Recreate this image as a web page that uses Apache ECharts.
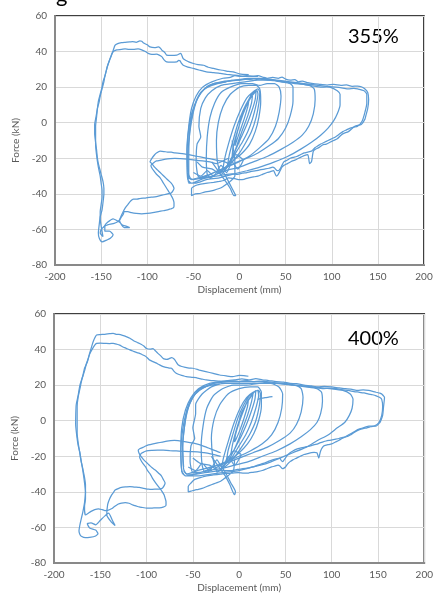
<!DOCTYPE html>
<html><head><meta charset="utf-8">
<script src="https://cdn.jsdelivr.net/npm/echarts@6/dist/echarts.min.js"></script>
<style>html,body{margin:0;padding:0;background:#fff}#c{width:436px;height:597px}</style>
</head><body><div id="c"></div>
<script>
// Axis ticks
const xTicks = [-200, -150, -100, -50, 0, 50, 100, 150, 200];
const yTicks = [-80, -60, -40, -20, 0, 20, 40, 60];
const labels = ['355%', '400%'];

// ===== 355% : [displacement (mm), force (kN)] =====
const center355 = [[0,0],[3,4],[7,9],[10,12],[9,9],[5,2],[1,-4],[-3,-10],[-5,-13],[-4,-9],[0,-1],[4,5],[8,10],[12,14],[14,15],[13,11],[9,4],[4,-3],[-1,-10],[-5,-16],[-8,-19],[-7,-14],[-3,-6],[2,2],[6,8],[11,14],[15,17],[18,18],[17,13],[13,6],[8,-1],[2,-8],[-4,-15],[-9,-20],[-13,-24],[-11,-18],[-7,-10],[-2,-1],[4,7],[10,13],[15,16],[19,18],[20,16],[18,10],[14,2],[9,-5],[3,-11],[-3,-16],[-9,-21],[-15,-25],[-18,-26],[-16,-20],[-12,-12],[-6,-2],[1,7],[8,14],[14,17],[20,19],[22,17],[21,11],[18,3],[13,-5],[7,-11],[0,-17],[-8,-22],[-16,-26],[-21,-28]];
const mid355 = [[-21,-28],[-24,-22],[-25,-10],[-23,0],[-18,9],[-10,16],[0,20],[10,21],[18,21],[22,19],[23,12],[21,3],[17,-5],[11,-12],[3,-17],[-6,-21],[-15,-25],[-25,-29],[-32,-31],[-35,-29],[-36,-20],[-35,-8],[-32,3],[-27,11],[-20,17],[-10,20],[2,22],[14,22],[22,21],[30,22],[38,22],[43,20],[45,15],[43,6],[39,-2],[32,-9],[22,-14],[10,-19],[-2,-22],[-15,-25],[-28,-28],[-40,-31],[-45,-30],[-47,-22],[-46,-12],[-42,-8],[-44,-2],[-42,8],[-37,14],[-30,18],[-20,21],[-8,22],[6,23],[20,24],[34,24],[46,23],[55,22],[58,20],[58,12],[55,4],[50,-3],[42,-9],[32,-13],[20,-17],[8,-20],[-5,-23],[-18,-26],[-32,-29],[-45,-31],[-52,-32],[-55,-29],[-55,-18],[-54,-5],[-51,5],[-47,12],[-40,18],[-30,21],[-15,23],[0,24],[18,25],[35,24],[50,23],[65,22],[76,21],[81,19],[82,13],[80,5],[75,-2],[68,-7],[58,-11],[45,-15],[30,-19],[15,-22],[0,-25],[-15,-27],[-30,-30],[-42,-32],[-52,-34],[-56,-32],[-57,-22],[-56,-8],[-53,3],[-48,11],[-42,17],[-33,21],[-20,23],[-5,24],[10,25],[25,25],[40,24],[55,23],[70,22],[85,21],[98,20],[106,18],[109,16],[109,10],[106,5],[102,1],[96,-3],[88,-7],[78,-11],[66,-15],[52,-19],[38,-22],[22,-25],[8,-27],[-8,-29],[-22,-31],[-36,-32],[-48,-34],[-55,-34],[-56,-28]];
const outer355a = [[-56,-28],[-57,-15],[-55,-2],[-52,8],[-47,15],[-40,20],[-30,23],[-18,25],[-10,25.5],[-5,26.5],[2,26],[8,26.5],[14,26],[20,26.5],[26,25.5],[30,25],[36,25.5],[42,25],[46,25.6],[50,24.5],[55,24],[60,24.2],[64,23],[68,23.4],[74,22.5],[80,22],[88,21.6],[95,21.2],[102,21.5],[110,21],[116,21.3],[122,20.5],[128,20.6],[132,20.2],[136,19],[139,17],[140,13],[139,8],[137,4],[136,2],[132,-1],[125,-2],[118,-5],[113,-6],[110,-7],[106,-9],[102,-10],[98,-11],[94,-12],[90,-12.5],[86,-14],[82,-15],[80,-16],[79,-19],[78,-22],[76,-23],[75,-20],[74,-18],[70,-18.5],[68,-19],[64,-20],[60,-21],[56,-21.8],[52,-23],[48,-24],[46,-25],[44,-27],[42,-29],[40,-30],[38,-28],[37,-27],[33,-27.6],[30,-28],[25,-29],[20,-30],[15,-30.5],[10,-31],[5,-31.8],[0,-32],[-5,-31.5],[-12,-31],[-17,-32.5],[-22,-33],[-28,-33.5],[-35,-34],[-42,-34.5],[-46,-35],[-50,-36],[-52,-37],[-52,-41],[-50,-40.5],[-48,-40],[-43,-39.8],[-38,-39],[-33,-38.6],[-28,-38],[-22,-37],[-18,-36],[-14,-34.5],[-10,-33],[-5,-30],[-5,-22],[-8,-10]];
const outer355b = [[-55,-32],[-56,-20],[-54,-6],[-50,6],[-45,14],[-38,19],[-28,22],[-20,22.6],[-15,23],[-8,23.8],[0,24],[8,24.5],[15,24],[22,24.6],[30,24],[38,23.6],[45,23],[52,22.7],[60,22],[68,21.7],[75,21],[83,20.4],[90,20],[98,20.3],[105,20],[112,19.5],[118,19],[124,19.3],[128,19],[135,18],[138,16],[138,11],[136,6],[133,1],[128,-2],[124,-2.5],[120,-3],[116,-4],[112,-5],[108,-6.5],[104,-8],[100,-9],[96,-10],[92,-11],[88,-12],[85,-13],[82,-14],[80,-15],[78,-16],[74,-16.5],[70,-17],[66,-18],[62,-19],[58,-19.5],[55,-20],[52,-21],[48,-22],[46,-24],[44,-26],[42,-27],[41,-27],[38,-25.5],[36,-25],[32,-25.6],[28,-26],[22,-26.5],[18,-27],[12,-27.5],[8,-28],[3,-28.4],[-2,-29],[-8,-28.8],[-14,-29],[-20,-29.6],[-26,-30],[-32,-30.5],[-38,-31],[-44,-31.5],[-50,-32],[-55,-31]];
const excursion355a = [[10,27],[0,27.5],[-7,28.6],[-12,28.8],[-18,29.5],[-23,29.8],[-28,30.5],[-34,31.2],[-39,32.3],[-45,32.6],[-50,33.3],[-55,34.2],[-58,35],[-61,36],[-63,38.5],[-64,39],[-66,38.5],[-68,38],[-74,37.8],[-79,38],[-81,39.5],[-84,40.7],[-86,42],[-88,42.6],[-92,42.2],[-97,42.6],[-100,43.8],[-104,44.8],[-106,45.8],[-108,46],[-112,45.2],[-116,45.6],[-119,45.4],[-124,45.2],[-128,45],[-132,44.5],[-135,43.5],[-137,40.5],[-139,38],[-141,35],[-143,32],[-145,28],[-146,26],[-147,23],[-149,19],[-151,15],[-152,12],[-154,8],[-155,5],[-156,2],[-157,-1],[-157,-6],[-156,-11],[-155,-15],[-154,-20],[-153,-23],[-151,-27],[-150,-29],[-148,-33],[-147,-37],[-147,-40],[-148,-45],[-149,-49],[-151,-53],[-152,-57],[-153,-62],[-152,-65],[-149,-67],[-144,-66],[-140,-65],[-137,-63],[-141,-61],[-146,-61],[-146,-58],[-143,-56],[-137,-54],[-133,-55],[-130,-56],[-127,-57.5],[-124,-58],[-119,-59],[-125,-59],[-130,-55],[-127,-51],[-124,-48],[-121,-46],[-118,-44],[-115,-43],[-111,-43],[-107,-42.5],[-102,-42.4],[-98,-42],[-94,-41.8],[-90,-41.5],[-86,-41],[-82,-40.5],[-78,-40],[-74,-39.5],[-71,-37],[-72,-35.5],[-74,-34],[-77,-32.5],[-80,-31],[-83,-29.5],[-86,-28],[-89,-26.5],[-92,-25],[-95,-23],[-97,-22],[-95,-20],[-92,-18],[-90,-17],[-86,-16],[-82,-16.2],[-78,-16.5],[-74,-16.6],[-70,-17],[-65,-17.2],[-60,-17.5],[-55,-18],[-50,-18.5],[-45,-19],[-40,-19.5],[-35,-20],[-30,-20.5],[-25,-21],[-20,-21.5],[-16,-22],[-12,-23]];
const excursion355b = [[-12,-20],[-18,-21.5],[-25,-23],[-32,-22],[-40,-21.5],[-48,-21],[-57,-20.5],[-64,-20.2],[-70,-20],[-75,-20.2],[-80,-20.5],[-85,-21],[-90,-21.5],[-93,-22.5],[-96,-24],[-95,-25.5],[-93,-27],[-90,-29],[-86,-31],[-83,-33.5],[-80,-36],[-77,-38.5],[-74,-41],[-72,-43],[-71,-45],[-71,-47],[-72,-48],[-75,-48.5],[-78,-49],[-83,-49.5],[-88,-50],[-94,-50.6],[-100,-51],[-106,-51.2],[-112,-51],[-117,-50.6],[-121,-50],[-125,-50],[-126,-51.5],[-128,-53],[-130,-54.6],[-133,-56],[-136,-56.6],[-140,-57],[-143,-57.4],[-146,-58],[-148,-59],[-150,-60],[-151,-62],[-148,-64],[-150,-58],[-151,-54],[-151,-50],[-150,-46],[-149,-42],[-149,-38],[-150,-34],[-151,-30],[-153,-25],[-155,-18],[-156,-12],[-156,-7],[-156,-2],[-155,3],[-154,8],[-153,12],[-151,16],[-149,20],[-148,23],[-146,26],[-145,28],[-143,32],[-141,35],[-139,37.5],[-138,39],[-136,40.3],[-133,41],[-128,41.2],[-124,41.5],[-120,41.3],[-115,41.3],[-110,41.5],[-106,41],[-102,40],[-99,39],[-95,38.4],[-90,38.5],[-87,38],[-84,37],[-82,35.5],[-79,34.2],[-74,34],[-68,34.2],[-66,35],[-64.5,34.8],[-63,33.5],[-61,32.3],[-56,31.3],[-50,30.5],[-43,29.5],[-36,28.6],[-28,28.2],[-21,27.7],[-14,27.2],[-7,26.8],[0,26.4],[5,26],[12,26.2],[20,26]];
const extra355 = [[-30,-22],[-22,-28],[-15,-33],[-10,-37],[-6,-41],[-4,-41],[-9,-36],[-15,-30],[-20,-26]];
const knot355 = [[-50,-28],[-42,-30],[-35,-27],[-28,-30],[-20,-24],[-14,-28],[-8,-22],[-2,-26],[4,-21],[-4,-18],[-12,-24],[-20,-29],[-30,-26],[-40,-25],[-46,-22]];

// ===== 400% : [displacement (mm), force (kN)] =====
const center400 = [[0,0],[3,5],[7,9],[10,12],[9,8],[5,1],[1,-5],[-3,-10],[-5,-12],[-4,-8],[0,-1],[5,6],[9,11],[13,14],[15,15],[13,10],[9,3],[4,-4],[-1,-11],[-6,-17],[-9,-19],[-7,-13],[-3,-5],[2,3],[7,9],[12,13],[16,16],[18,17],[17,12],[13,5],[8,-2],[2,-9],[-4,-15],[-10,-21],[-14,-24],[-12,-17],[-7,-8],[-1,2],[5,9],[11,14],[16,16],[20,17],[21,14],[18,7],[13,-1],[7,-8],[0,-14],[-7,-20],[-14,-24],[-19,-27],[-17,-21],[-12,-12],[-6,-2],[1,7],[8,13],[15,16],[21,17],[23,15],[22,9],[18,0],[12,-7],[5,-13],[-3,-19],[-11,-24],[-18,-27],[-24,-29]];
const mid400 = [[-24,-29],[-28,-22],[-30,-10],[-27,1],[-21,9],[-12,15],[0,18],[12,19],[20,19],[24,16],[24,8],[21,0],[16,-7],[9,-13],[0,-18],[-10,-22],[-20,-25],[-30,-28],[-37,-29],[-40,-25],[-41,-14],[-39,-3],[-35,7],[-28,14],[-18,18],[-6,20],[8,20],[22,21],[34,21],[43,19],[47,15],[46,7],[42,-1],[35,-8],[25,-13],[12,-17],[0,-20],[-14,-23],[-28,-26],[-42,-29],[-50,-29],[-53,-23],[-52,-14],[-48,-10],[-50,-4],[-47,4],[-47,9],[-40,15],[-30,19],[-16,21],[0,21],[16,21],[32,21],[48,21],[60,20],[67,18],[69,13],[67,5],[62,-2],[55,-7],[44,-11],[30,-15],[15,-18],[0,-21],[-15,-24],[-30,-26],[-45,-28],[-57,-30],[-60,-27],[-61,-15],[-59,-3],[-56,6],[-50,13],[-42,18],[-30,20],[-15,21],[0,21],[20,21],[40,21],[58,20],[72,19],[84,18],[89,16],[90,11],[88,4],[84,-1],[77,-5],[67,-9],[55,-13],[40,-17],[25,-20],[10,-23],[-5,-25],[-20,-27],[-35,-28],[-48,-30],[-58,-31],[-62,-28],[-63,-16],[-62,-4],[-58,6],[-52,13],[-44,18],[-32,21],[-18,22],[0,22],[20,22],[40,21],[60,20],[80,19],[98,18],[112,17],[120,15],[123,12],[122,7],[119,3],[114,-1],[106,-4],[96,-8],[85,-11],[72,-15],[58,-18],[44,-21],[30,-24],[15,-26],[0,-28],[-15,-29],[-30,-30],[-45,-31],[-58,-31],[-62,-29]];
const outer400a = [[-62,-29],[-63,-18],[-61,-5],[-57,5],[-52,12],[-44,17],[-33,20],[-20,22],[-12,22.6],[-5,23],[3,23.5],[10,23],[18,23.6],[25,23],[32,22.6],[40,22],[48,21.7],[55,21],[62,20.8],[70,20],[78,19.6],[85,19],[92,19.3],[100,19],[108,18.4],[115,18],[122,17.6],[128,17],[134,17.3],[140,17],[145,16.4],[148,16],[152,15.5],[154,15],[157,13],[156,8],[155,3],[153,0],[152,-1],[148,-3],[144,-3],[140,-3],[137,-3.5],[134,-4],[131,-4.5],[128,-5],[125,-6],[122,-7],[118,-8],[115,-9],[111,-10],[108,-11],[104,-12],[100,-13],[96,-13.5],[92,-14],[90,-15],[88,-17],[87,-19],[86,-21],[85,-19.5],[84,-18],[81,-17.8],[78,-18],[74,-18.5],[70,-19],[66,-20],[62,-21],[58,-22],[55,-23],[52,-24.5],[50,-26],[48,-26.8],[47,-27],[44,-25.5],[42,-25],[38,-25.6],[35,-26],[30,-27],[25,-28],[20,-28.6],[15,-29],[10,-29.4],[5,-29.5],[-1,-29.2],[-8,-29.5],[-14,-29.6],[-20,-30],[-28,-30.5],[-35,-31],[-42,-32],[-48,-33],[-52,-35],[-55,-37],[-55,-40],[-52,-39.6],[-48,-39],[-44,-38.6],[-40,-38],[-35,-37],[-30,-36],[-25,-35],[-20,-34],[-16,-32.5],[-12,-31],[-9,-29.5],[-6,-28],[-5,-22]];
const outer400b = [[-60,-26],[-61,-15],[-59,-3],[-55,7],[-49,14],[-40,18],[-28,21],[-20,21.5],[-14,22],[-6,22.4],[0,22],[8,22.4],[15,22],[22,22.3],[30,22],[38,21.4],[45,21],[52,20.6],[60,20],[68,19.6],[75,19],[82,18.7],[90,18],[98,18.3],[105,18],[112,17.4],[118,17],[124,16.4],[130,16],[135,15.6],[140,15],[144,14.6],[148,14],[152,13],[154,12],[155,8],[154,3],[151,-1],[146,-3],[142,-3.4],[138,-4],[134,-4.4],[130,-5],[126,-6],[123,-7],[120,-8],[116,-9],[112,-9.4],[108,-10],[103,-10.5],[98,-11],[94,-11.4],[90,-12],[87,-12.5],[85,-13],[81,-13.5],[78,-14],[74,-14.5],[70,-15],[66,-15.4],[62,-16],[58,-17],[55,-18],[52,-19.5],[50,-21],[48,-22.4],[47,-23],[45,-22],[44,-21],[40,-21.4],[36,-22],[31,-23],[26,-24],[20,-25],[15,-26],[10,-26.5],[4,-27],[-2,-27.4],[-8,-28],[-14,-28],[-20,-28],[-27,-28.5],[-34,-29],[-40,-29.5],[-46,-30],[-51,-30],[-56,-30],[-60,-28]];
const excursion400a = [[10,25],[5,25.4],[0,25.5],[-7,24.8],[-14,25.2],[-21,25.7],[-28,26.6],[-36,27.6],[-43,28.5],[-50,29.5],[-54,29.6],[-58,30],[-62,30.5],[-66,31.5],[-68,33],[-70,34.6],[-73,35.5],[-76,34.8],[-78,34.5],[-80,34.6],[-82,35],[-85,36.6],[-88,38],[-91,39.6],[-93,40.6],[-96,40.2],[-100,40.6],[-103,42],[-106,43],[-110,44],[-114,45],[-118,46.4],[-122,47.3],[-126,48],[-130,48.5],[-133,48.6],[-136,49.1],[-140,48.9],[-145,48.6],[-150,48.4],[-154,48.2],[-156,46.5],[-158,44],[-160,40.5],[-162,37],[-164,33],[-167,29.5],[-169,25],[-172,20],[-174,14],[-176,9],[-176.5,3],[-176.6,-2],[-175.5,-8],[-174,-13.6],[-172,-18],[-170.5,-23],[-168.5,-28],[-167,-32],[-166,-36],[-166,-40],[-167,-46],[-168.7,-51],[-170.5,-55],[-172,-58.5],[-173,-62],[-172,-64],[-170.5,-65],[-166,-65.8],[-161.5,-65.6],[-155,-64.8],[-152.5,-63.5],[-155,-61.5],[-161.5,-60.3],[-164,-58],[-160,-57.5],[-155,-58.5],[-150,-56],[-145,-53.5],[-141,-52],[-137,-56],[-134,-59],[-138,-57],[-143,-53],[-142,-47],[-140,-44],[-138,-42],[-136,-40.5],[-134,-39],[-130,-38],[-127,-37.5],[-122,-37.2],[-118,-37],[-113,-37.3],[-108,-37.5],[-103,-38],[-98,-38.5],[-94,-38.6],[-90,-38.5],[-86,-38.4],[-83,-38],[-81,-36.5],[-80,-35],[-82,-33],[-84,-31],[-87,-29.5],[-90,-28],[-94,-26.5],[-97,-25],[-100,-23.5],[-103,-22],[-106,-20],[-108,-18.5],[-109,-16.5],[-107,-15.6],[-104,-15],[-101,-14.2],[-98,-13.6],[-93,-13],[-88,-12.5],[-83,-12],[-78,-11.5],[-74,-11.2],[-70,-11],[-66,-11.2],[-62,-11.5],[-56,-12],[-50,-12.5],[-45,-13.2],[-40,-14],[-35,-15],[-30,-16],[-25,-17],[-20,-18]];
const excursion400b = [[-20,-20],[-26,-19.2],[-32,-18.5],[-38,-18],[-45,-17.5],[-52,-17.4],[-60,-17.3],[-68,-17],[-75,-16.8],[-82,-16.6],[-88,-16.5],[-94,-16.7],[-100,-17],[-103,-17.6],[-106,-18.5],[-107.5,-20.5],[-106,-22.4],[-104,-24],[-101,-26],[-99,-28],[-96,-30],[-94,-32],[-91,-34.4],[-88,-36.5],[-85,-38.4],[-83,-40],[-81,-41.8],[-80,-43.5],[-79,-45.5],[-79,-47.5],[-81,-48.4],[-84,-48.8],[-88,-49],[-92,-49],[-96,-49.2],[-100,-49.2],[-104,-48.8],[-108,-48.5],[-111,-48],[-115,-47.3],[-119,-46.4],[-123,-46],[-127,-46.3],[-131,-47],[-135,-48.4],[-138,-49.5],[-142,-50.4],[-145,-50.5],[-148,-50],[-152,-49.5],[-156,-50],[-160,-51],[-163,-52],[-166,-53],[-167,-50],[-167,-48],[-166,-44],[-166,-40],[-167,-35],[-168,-31],[-169.5,-26],[-171,-22],[-172.5,-17],[-174,-12],[-175,-7],[-175,-2],[-175,3],[-175,8],[-174,13],[-172,18],[-170,23],[-167,28],[-165,32],[-163,35],[-161,38],[-159,40],[-156,42.5],[-154,43.5],[-150,43.6],[-145,43.5],[-140,43.4],[-136,43.5],[-132,43],[-129,42.5],[-126,41.6],[-122,40.7],[-118,39.8],[-114,39],[-111,38.4],[-107.5,37.9],[-105,37.2],[-102,36.5],[-99,35.3],[-97,34.2],[-93,33.2],[-90,32.5],[-86,31.4],[-82,30.4],[-79,30],[-77,29.8],[-75,29.6],[-73,29.5],[-71,28.2],[-68,26.7],[-65,26],[-62,25.5],[-60,25.2],[-57,24.8],[-51,24.4],[-45,24],[-40,23.4],[-35.6,22.9],[-30,22.6],[-25,22.4],[-20,22.2],[-14,22],[-7,22],[0,22],[5,22.2],[10,22.5]];
const extra400 = [[-30,-20],[-22,-26],[-15,-31],[-10,-36],[-5,-41.6],[-4,-40],[-9,-35],[-15,-29],[-20,-25]];
const knot400 = [[-55,-26],[-47,-28],[-40,-24],[-32,-28],[-24,-22],[-18,-27],[-12,-20],[-5,-25],[2,-19],[-6,-17],[-14,-23],[-22,-28],[-32,-25],[-42,-24],[-50,-21]];
const tail400 = [[20,12],[28,13],[36,13.6]];

const groups = [
  [center355, mid355, outer355a, outer355b, excursion355a, excursion355b, extra355, knot355],
  [center400, mid400, outer400a, outer400b, excursion400a, excursion400b, extra400, knot400, tail400]
];

const FONT = 'Lato, "Open Sans", sans-serif';
const gray = '#595959';
const grids = [
  {left: 55, top: 16, width: 369, height: 249},
  {left: 54, top: 314, width: 371, height: 249}
];

function xAx(i){return {gridIndex:i,type:'value',min:xTicks[0],max:xTicks[xTicks.length-1],interval:50,
  axisLine:{show:true,onZero:false,lineStyle:{color:'#898989',width:2}},axisTick:{show:false},
  axisLabel:{color:gray,fontSize:10,fontFamily:FONT,margin:7},
  splitLine:{show:true,lineStyle:{color:'#D9D9D9',width:1}},
  name:'Displacement (mm)',nameLocation:'middle',nameGap:20,nameTextStyle:{color:gray,fontSize:10,fontFamily:FONT}};}
function yAx(i){return {gridIndex:i,type:'value',min:yTicks[0],max:yTicks[yTicks.length-1],interval:20,
  axisLine:{show:true,onZero:false,lineStyle:{color:'#898989',width:2}},axisTick:{show:false},
  axisLabel:{color:gray,fontSize:10,fontFamily:FONT,margin:8},
  splitLine:{show:true,lineStyle:{color:'#D9D9D9',width:1}},
  name:'Force (kN)',nameLocation:'middle',nameGap:28,nameTextStyle:{color:gray,fontSize:10,fontFamily:FONT}};}

const series = [];
groups.forEach((g,gi)=>g.forEach(seg=>series.push({type:'line',xAxisIndex:gi,yAxisIndex:gi,data:seg,
  showSymbol:false,symbol:'none',smooth:0.2,animation:false,silent:true,
  lineStyle:{color:'#5B9BD5',width:1.25}})));

const chart = echarts.init(document.getElementById('c'),null,{renderer:'canvas'});
chart.setOption({
  animation:false,
  grid: grids.map(g=>Object.assign({show:true,borderColor:'#000',borderWidth:1.5,backgroundColor:'#fff'},g)),
  xAxis:[xAx(0),xAx(1)],
  yAxis:[yAx(0),yAx(1)],
  series: series,
  graphic:[
    {type:'text',left:348,top:27,style:{text:labels[0],font:'20px '+FONT,fill:'#000'}},
    {type:'text',left:348,top:329,style:{text:labels[1],font:'20px '+FONT,fill:'#000'}},
    {type:'text',left:56,top:-16,style:{text:'g',font:'22px '+FONT,fill:'#000'}}
  ]
});
</script></body></html>
